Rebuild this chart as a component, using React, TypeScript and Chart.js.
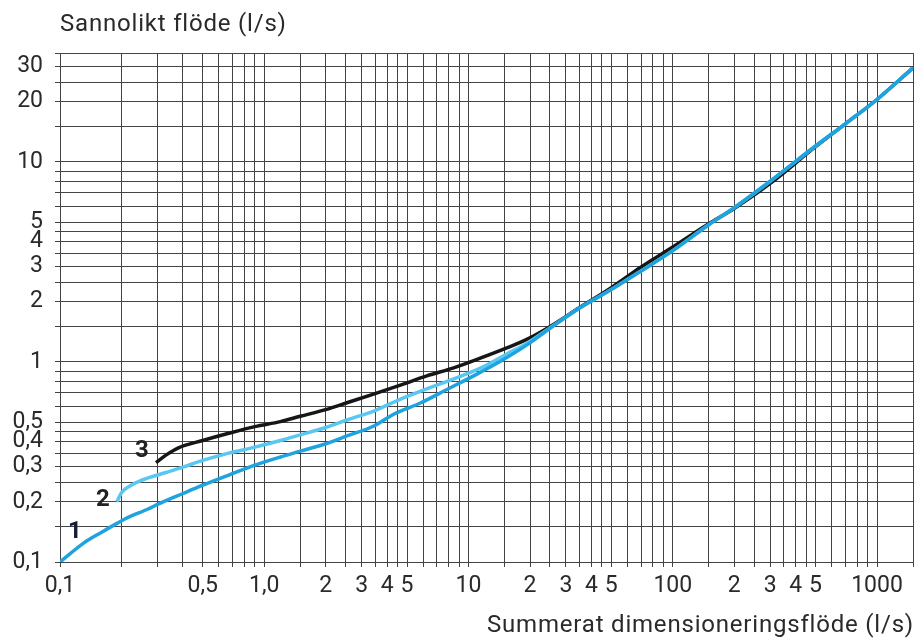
import React, { useEffect, useRef } from 'react';
import { Chart, registerables } from 'chart.js';

Chart.register(...registerables);

// Grid lines (x axis)
const xGridValues = [
  0.1, 0.2, 0.3, 0.4, 0.5, 0.6, 0.7, 0.8, 0.9,
  1, 1.5, 2, 2.5, 3, 3.5, 4, 4.5, 5, 6, 7, 8, 9,
  10, 15, 20, 25, 30, 35, 40, 45, 50, 60, 70, 80, 90,
  100, 150, 200, 250, 300, 350, 400, 450, 500, 600, 700, 800, 900,
  1000, 1500,
];
const xLabelValues = [0.1, 0.5, 1, 2, 3, 4, 5, 10, 20, 30, 40, 50, 100, 200, 300, 400, 500, 1000];
const xLabelTexts = ['0,1', '0,5', '1,0', '2', '3', '4', '5', '10', '2', '3', '4', '5', '100', '2', '3', '4', '5', '1000'];

// Grid lines (y axis)
const yGridValues = [
  0.1, 0.15, 0.2, 0.25, 0.3, 0.35, 0.4, 0.45, 0.5, 0.6, 0.7, 0.8, 0.9,
  1, 1.5, 2, 2.5, 3, 3.5, 4, 4.5, 5, 6, 7, 8, 9,
  10, 15, 20, 25, 30, 35,
];
const yLabelValues = [0.1, 0.2, 0.3, 0.4, 0.5, 1, 2, 3, 4, 5, 10, 20, 30];
const yLabelTexts = ['0,1', '0,2', '0,3', '0,4', '0,5', '1', '2', '3', '4', '5', '10', '20', '30'];

// Curve 1
const curve1X = [0.1, 0.13, 0.16, 0.19, 0.21, 0.27, 0.3, 0.4, 0.5, 0.67, 0.9, 1.2, 1.5, 2, 2.56, 3.46, 4.3, 5.85, 7.8, 10.6, 14.4, 19.4, 25, 35, 50, 70, 100, 150, 200, 300, 500, 700, 1000, 1500];
const curve1Y = [0.1, 0.124, 0.141, 0.156, 0.165, 0.184, 0.194, 0.22, 0.242, 0.272, 0.305, 0.335, 0.358, 0.39, 0.428, 0.48, 0.548, 0.625, 0.726, 0.852, 1.01, 1.22, 1.47, 1.86, 2.3, 2.85, 3.6, 4.85, 5.9, 8.0, 12.0, 15.5, 20.5, 29.5];

// Curve 2
const curve2X = [0.19, 0.2, 0.22, 0.25, 0.33, 0.4, 0.5, 0.67, 0.9, 1.2, 1.5, 2, 2.56, 3.46, 4.68, 6.25, 8.46, 11.5, 15.4, 19.4, 25, 35, 50, 70, 100, 150, 200, 300, 500, 700, 1000, 1500];
const curve2Y = [0.2, 0.222, 0.24, 0.256, 0.28, 0.298, 0.322, 0.35, 0.375, 0.405, 0.432, 0.47, 0.514, 0.57, 0.654, 0.734, 0.823, 0.933, 1.096, 1.245, 1.48, 1.86, 2.3, 2.85, 3.6, 4.85, 5.9, 8.0, 12.0, 15.5, 20.5, 29.5];

// Curve 3
const curve3X = [0.295, 0.33, 0.38, 0.5, 0.67, 0.9, 1.2, 1.5, 2, 2.56, 3.46, 4.68, 6.25, 8.46, 11.5, 15.4, 19.4, 25, 35, 50, 70, 100, 150, 200, 300, 500, 700, 1000, 1500];
const curve3Y = [0.314, 0.342, 0.372, 0.405, 0.44, 0.475, 0.503, 0.535, 0.578, 0.627, 0.693, 0.768, 0.852, 0.934, 1.047, 1.175, 1.3, 1.5, 1.87, 2.35, 2.98, 3.75, 4.9, 5.85, 7.8, 11.9, 15.5, 20.5, 29.5];

const curveNames = ['1', '2', '3'];
const yAxisTitle = 'Sannolikt flöde (l/s)';
const xAxisTitle = 'Summerat dimensioneringsflöde (l/s)';

const FONT = 'Roboto, "DejaVu Sans", sans-serif';

function findLabel(values: number[], texts: string[], v: number): string {
  for (let i = 0; i < values.length; i++) {
    if (Math.abs(values[i] - v) < 1e-9 * Math.max(1, v)) return texts[i];
  }
  return '';
}

const axisTitlesPlugin = {
  id: 'axisTitles',
  afterDraw(chart: any, _args: any, opts: any) {
    const ctx = chart.ctx;
    const area = chart.chartArea;
    ctx.save();
    ctx.font = `24px ${FONT}`;
    (ctx as any).letterSpacing = '0.8px';
    ctx.fillStyle = '#2a2a2a';
    ctx.textBaseline = 'middle';
    ctx.textAlign = 'left';
    ctx.fillText(opts.yText, area.left, opts.yTitleY);
    ctx.textAlign = 'right';
    ctx.fillText(opts.xText, area.right + 1, opts.xTitleY);
    ctx.restore();
  },
};

const curveLabelPlugin = {
  id: 'curveLabels',
  afterDatasetsDraw(chart: any, _args: any, opts: any) {
    const ctx = chart.ctx;
    ctx.save();
    ctx.font = `bold 24px ${FONT}`;
    ctx.textAlign = 'center';
    ctx.textBaseline = 'middle';
    chart.data.datasets.forEach((ds: any, i: number) => {
      const first = ds.data[0];
      const px = chart.scales.x.getPixelForValue(first.x);
      const py = chart.scales.y.getPixelForValue(first.y);
      const off = opts.offsets[i];
      ctx.fillStyle = opts.colors[i];
      ctx.fillText(ds.label, px + off[0], py + off[1]);
    });
    ctx.restore();
  },
};

export default function App() {
  const ref = useRef<HTMLCanvasElement>(null);
  useEffect(() => {
    const toPts = (xs: number[], ys: number[]) => xs.map((x, i) => ({ x, y: ys[i] }));
    const gridColor = '#444444';
    const chart = new Chart(ref.current as HTMLCanvasElement, {
      type: 'line',
      data: {
        datasets: [
          {
            label: curveNames[0],
            data: toPts(curve1X, curve1Y),
            borderColor: '#1ea3df',
            borderWidth: 3.5,
            order: 1,
          },
          {
            label: curveNames[1],
            data: toPts(curve2X, curve2Y),
            borderColor: '#58c7f1',
            borderWidth: 3.5,
            order: 2,
          },
          {
            label: curveNames[2],
            data: toPts(curve3X, curve3Y),
            borderColor: '#161616',
            borderWidth: 3.5,
            order: 3,
          },
        ],
      },
      options: {
        responsive: false,
        animation: false,
        devicePixelRatio: 1,
        parsing: false as any,
        layout: { padding: { top: 53, right: 6, left: 0, bottom: 0 } },
        elements: {
          point: { radius: 0 },
          line: { cubicInterpolationMode: 'monotone', fill: false, borderCapStyle: 'butt' },
        },
        plugins: {
          legend: { display: false },
          tooltip: { enabled: false },
          axisTitles: { yText: yAxisTitle, xText: xAxisTitle, yTitleY: 25, xTitleY: 626 },
          curveLabels: {
            offsets: [[15, -30], [-14, -2], [-14, -12]],
            colors: ['#141a3a', '#222222', '#222222'],
          },
        } as any,
        scales: {
          x: {
            type: 'logarithmic',
            min: 0.1,
            max: 1500,
            afterBuildTicks: (s: any) => {
              s.ticks = xGridValues.map((v) => ({ value: v }));
            },
            afterFit: (s: any) => {
              s.height = 79;
            },
            ticks: {
              autoSkip: false,
              maxRotation: 0,
              minRotation: 0,
              padding: 5,
              color: '#2a2a2a',
              font: { family: FONT, size: 23 },
              callback: (v: any) => findLabel(xLabelValues, xLabelTexts, Number(v)),
            },
            grid: { color: gridColor, lineWidth: 1, tickLength: 5, drawTicks: true },
            border: { display: true, color: gridColor },
          },
          y: {
            type: 'logarithmic',
            min: 0.1,
            max: 35,
            afterBuildTicks: (s: any) => {
              s.ticks = yGridValues.map((v) => ({ value: v }));
            },
            afterFit: (s: any) => {
              s.width = 60;
            },
            ticks: {
              autoSkip: false,
              padding: 12,
              color: '#2a2a2a',
              font: { family: FONT, size: 23 },
              callback: (v: any) => findLabel(yLabelValues, yLabelTexts, Number(v)),
            },
            grid: { color: gridColor, lineWidth: 1, tickLength: 5, drawTicks: true },
            border: { display: true, color: gridColor },
          },
        },
      },
      plugins: [axisTitlesPlugin, curveLabelPlugin],
    } as any);
    return () => chart.destroy();
  }, []);
  return (
    <div style={{ position: 'absolute', left: 0, top: 0, width: 919, height: 641, background: '#fff' }}>
      <canvas ref={ref} width={919} height={641} style={{ display: 'block', width: 919, height: 641 }} />
    </div>
  );
}
